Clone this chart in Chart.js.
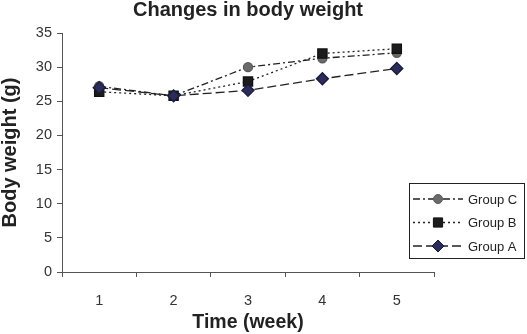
<!DOCTYPE html>
<html>
<head>
<meta charset="utf-8">
<script src="https://cdn.jsdelivr.net/npm/chart.js@4/dist/chart.umd.min.js"></script>
<style>
  html, body { margin: 0; padding: 0; background: #fff; }
  #wrap { width: 527px; height: 334px; }
</style>
</head>
<body>
<div id="wrap"><canvas id="c" width="527" height="334"></canvas></div>
<script>
// Changes in body weight — semanas 1..5
const weeks  = ['1', '2', '3', '4', '5'];
const groupA = [27.0, 25.8, 26.6, 28.3, 29.8];
const groupB = [26.4, 25.8, 27.9, 32.0, 32.7];
const groupC = [27.2, 25.8, 30.0, 31.3, 32.1];
const yTicks = [0, 5, 10, 15, 20, 25, 30, 35];

const FONT = "'Liberation Sans', Arial, sans-serif";
const AXIS = '#555';

// leyenda dibujada a mano (línea discontinua + marcador)
function marker(ctx, style, x, y, r, fill, stroke) {
    ctx.save();
    ctx.setLineDash([]);
    ctx.fillStyle = fill;
    ctx.strokeStyle = stroke;
    ctx.lineWidth = 1;
    ctx.beginPath();
    if (style === 'circle') {
        ctx.arc(x, y, r, 0, Math.PI * 2);
    } else if (style === 'rect') {
        const s = Math.SQRT1_2 * r;
        ctx.rect(x - s, y - s, 2 * s, 2 * s);
    } else {
        ctx.moveTo(x - r, y); ctx.lineTo(x, y - r);
        ctx.lineTo(x + r, y); ctx.lineTo(x, y + r);
        ctx.closePath();
    }
    ctx.fill();
    ctx.stroke();
    ctx.restore();
}

const boxLegend = {
    id: 'boxLegend',
    afterDraw(chart, args, opts) {
        const ctx = chart.ctx;
        const { x, y, w, h, rowH } = opts;
        ctx.save();
        ctx.fillStyle = '#fff';
        ctx.fillRect(x, y, w, h);
        ctx.strokeStyle = '#222';
        ctx.lineWidth = 1;
        ctx.strokeRect(x + 0.5, y + 0.5, w, h);
        const ds = chart.data.datasets.slice().reverse();
        ds.forEach((d, i) => {
            const cy = y + 16 + i * rowH;
            ctx.strokeStyle = d.borderColor;
            ctx.lineWidth = d.borderWidth;
            ctx.setLineDash(d.borderDash);
            ctx.beginPath();
            ctx.moveTo(x + 4, cy);
            ctx.lineTo(x + 54, cy);
            ctx.stroke();
            marker(ctx, d.pointStyle, x + 29, cy, d.pointRadius, d.pointBackgroundColor, d.pointBorderColor);
            ctx.fillStyle = '#222';
            ctx.font = '13px ' + FONT;
            ctx.textBaseline = 'middle';
            ctx.fillText(d.label, x + 59, cy + 1);
        });
        ctx.restore();
    }
};

const ctx = document.getElementById('c').getContext('2d');
new Chart(ctx, {
    type: 'line',
    data: {
        labels: weeks,
        datasets: [
            { label: 'Group A', data: groupA, borderColor: '#222', borderWidth: 1.3, borderDash: [9, 4],
              pointStyle: 'rectRot', pointRadius: 6, pointBackgroundColor: '#2b2b5c', pointBorderColor: '#1a1a3a', tension: 0 },
            { label: 'Group B', data: groupB, borderColor: '#222', borderWidth: 1.3, borderDash: [2, 3],
              pointStyle: 'rect', pointRadius: 6.5, pointBackgroundColor: '#1c1c1c', pointBorderColor: '#111', tension: 0 },
            { label: 'Group C', data: groupC, borderColor: '#222', borderWidth: 1.3, borderDash: [7, 3, 2, 3],
              pointStyle: 'circle', pointRadius: 4.5, pointBackgroundColor: '#6a6a6a', pointBorderColor: '#5a5a5a', tension: 0 }
        ]
    },
    options: {
        responsive: false,
        animation: false,
        layout: { padding: { left: 0, right: 93, top: 0, bottom: 0 } },
        plugins: {
            legend: { display: false },
            tooltip: { enabled: false },
            title: {
                display: true, text: 'Changes in body weight', fullSize: false,
                color: '#222', font: { family: FONT, size: 20, weight: 'bold', lineHeight: 0.8 },
                padding: { top: 2, bottom: 15 }
            },
            boxLegend: { x: 409, y: 183, w: 115, h: 75, rowH: 23.5 }
        },
        scales: {
            x: {
                offset: true,
                afterFit: s => { s.height = 62; },
                grid: { display: true, offset: true, drawOnChartArea: false, tickLength: 5, color: AXIS },
                border: { color: AXIS, width: 1 },
                ticks: { color: '#333', padding: 15, font: { family: FONT, size: 14.5 } },
                title: { display: true, text: 'Time (week)', color: '#222',
                         font: { family: FONT, size: 19.5, weight: 'bold' }, padding: { top: 0, bottom: 0 } }
            },
            y: {
                min: 0, max: 35,
                afterFit: s => { s.width = 62; },
                afterBuildTicks: s => { s.ticks = yTicks.map(v => ({ value: v })); },
                grid: { display: true, drawOnChartArea: false, tickLength: 5, color: AXIS },
                border: { color: AXIS, width: 1 },
                ticks: { color: '#333', padding: 5, font: { family: FONT, size: 14.5 } },
                title: { display: true, text: 'Body weight (g)', color: '#222',
                         font: { family: FONT, size: 20, weight: 'bold', lineHeight: 1 }, padding: { top: 0, bottom: 0 } }
            }
        }
    },
    plugins: [boxLegend]
});
</script>
</body>
</html>
